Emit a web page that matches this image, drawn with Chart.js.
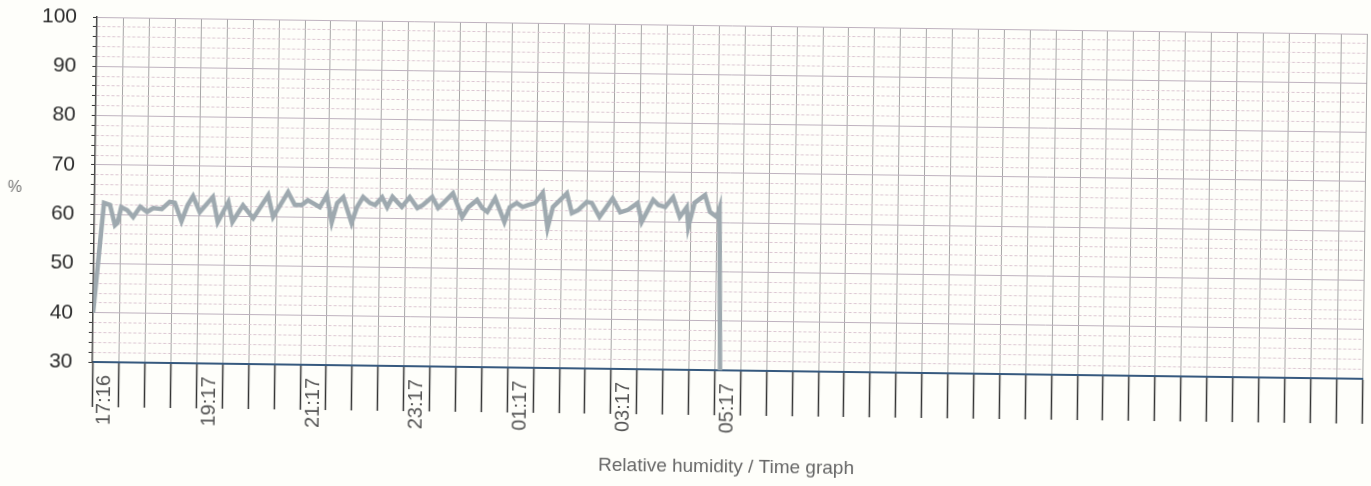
<!DOCTYPE html>
<html><head><meta charset="utf-8">
<script src="https://cdn.jsdelivr.net/npm/chart.js@4.4.1/dist/chart.umd.min.js"></script>
<style>
html,body{margin:0;padding:0;background:#fefefa;overflow:hidden;width:1371px;height:486px}
#c{position:absolute;left:0;top:0;transform:rotate(0.76deg);transform-origin:97px 17px;}
</style></head><body>
<canvas id="c" width="1371" height="486"></canvas>
<script>
// minutes after 17:16
const minutes = [0,11,18,24,27,31,38,45,53,61,
  68,78,87,93,101,108,114,122,137,143,
  155,160,172,184,201,207,224,232,240,247,
  261,269,275,281,288,298,304,311,319,325,
  333,339,345,356,365,374,380,391,398,404,
  415,426,433,443,449,455,464,475,481,489,
  496,502,510,519,525,531,547,553,560,570,
  576,585,600,609,618,629,634,647,653,661,
  670,678,686,688,695,707,713,721,724,727];
// relative humidity, %
const humidity = [40.0,62.3,61.9,57.8,58.3,61.5,60.9,59.5,61.6,60.6,
  61.4,61.2,62.7,62.5,58.8,62.1,63.9,60.7,63.8,58.7,
  62.8,58.8,62.2,59.6,64.3,59.9,65.0,62.4,62.4,63.4,
  62.0,64.5,59.0,62.9,64.1,58.9,62.1,64.2,63.0,62.6,
  64.2,62.2,64.3,62.3,64.3,62.1,62.7,64.4,62.2,63.2,
  65.2,60.4,62.4,63.9,62.3,61.5,64.3,59.5,62.5,63.4,
  62.6,63.0,63.4,65.5,58.4,62.7,65.5,61.5,62.1,63.8,
  63.6,60.8,64.6,61.8,62.3,63.7,59.9,64.4,63.4,63.0,
  65.0,61.0,63.0,59.0,63.9,65.5,62.1,61.1,62.9,30];
// x tick labels and their times (minutes after 17:16)
const timeLabels = ['17:16','19:17','21:17','23:17','01:17','03:17','05:17'];
const labelMinutes = [0,121,241,361,481,601,721];
const yTickLabels = ['30','40','50','60','70','80','90','100'];

const X_MAX = 1471;       // 24.5 h axis
const CELL = 30;          // minutes per grid cell
const FIRST_GRID = 31;    // 17:47
const gridTicks = [0];
for (let m = FIRST_GRID; m <= X_MAX + 0.01; m += CELL) gridTicks.push(m);
const labelPos = {};
labelMinutes.forEach((m, i) => { labelPos[m + CELL / 2] = timeLabels[i]; });
const isLabelTick = v => Object.prototype.hasOwnProperty.call(labelPos, v);

Chart.defaults.font.family = '"Liberation Sans", Arial, sans-serif';

const pctPlugin = {
  id: 'pct',
  afterDraw(chart) {
    const ctx = chart.ctx;
    ctx.save();
    ctx.font = '16px "Liberation Sans", Arial, sans-serif';
    ctx.fillStyle = '#777';
    ctx.textAlign = 'center';
    ctx.textBaseline = 'middle';
    ctx.fillText('%', 17, 189);
    ctx.restore();
  }
};

new Chart(document.getElementById('c'), {
  type: 'line',
  data: {
    datasets: [{
      data: minutes.map((m, i) => ({ x: m, y: humidity[i] })),
      borderColor: '#9ea9af',
      borderWidth: 4.5,
      pointRadius: 0,
      fill: false,
      tension: 0
    }]
  },
  options: {
    responsive: false,
    animation: false,
    layout: { padding: { top: 17, right: 4, left: 0, bottom: 0 } },
    plugins: { legend: { display: false }, tooltip: { enabled: false } },
    scales: {
      x: {
        type: 'linear',
        min: 0,
        max: X_MAX,
        afterBuildTicks(scale) {
          const vals = gridTicks.concat(Object.keys(labelPos).map(Number)).sort((a, b) => a - b);
          scale.ticks = vals.map(v => ({ value: v }));
        },
        afterFit(scale) {
          scale.height = 124;
          scale.paddingLeft = 0;
          scale.paddingRight = 0;
        },
        ticks: {
          autoSkip: false,
          minRotation: 90,
          maxRotation: 90,
          padding: -32,
          color: '#555',
          font: { size: 20 },
          callback: v => (isLabelTick(v) ? labelPos[v] : '')
        },
        grid: {
          drawTicks: true,
          tickLength: 45,
          lineWidth: 1,
          tickWidth: 1.5,
          color: c => (c.tick && (isLabelTick(c.tick.value) || c.tick.value === 0)) ? 'rgba(0,0,0,0)' : '#a6a6a6',
          tickColor: c => (c.tick && isLabelTick(c.tick.value)) ? 'rgba(0,0,0,0)' : '#333'
        },
        border: { display: true, color: '#36597e', width: 2 },
        title: {
          display: true,
          text: 'Relative humidity / Time graph',
          color: '#666',
          font: { size: 19 },
          padding: { top: 0, bottom: 16 }
        }
      },
      y: {
        min: 30,
        max: 100,
        afterFit(scale) {
          scale.width = 97;
          scale.paddingTop = 0;
          scale.paddingBottom = 0;
        },
        ticks: {
          stepSize: 2,
          autoSkip: false,
          padding: 16,
          color: '#2b2b2b',
          font: { size: 21 },
          callback: v => (v % 10 === 0 ? yTickLabels[(v - 30) / 10] : '')
        },
        grid: {
          tickLength: 4,
          tickColor: '#333',
          lineWidth: 1,
          color: c => (c.tick && c.tick.value % 10 === 0) ? '#bfb2bf' : '#dcc6d2'
        },
        border: {
          display: true,
          color: '#4a4a4a',
          width: 1.5,
          dash: c => (c.tick && c.tick.value % 10 !== 0) ? [3, 2] : []
        }
      }
    }
  },
  plugins: [pctPlugin]
});
</script></body></html>
